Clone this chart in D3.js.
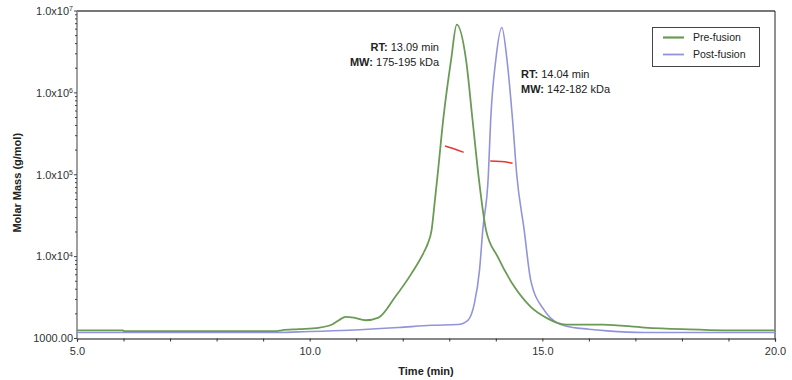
<!DOCTYPE html>
<html>
<head>
<meta charset="utf-8">
<script src="https://cdn.jsdelivr.net/npm/d3@7"></script>
<style>
  body { margin: 0; background: #fff; }
  svg { font-family: "Liberation Sans", Arial, sans-serif; }
</style>
</head>
<body>
<div id="chart"></div>
<script>
// Pre-fusion trace (time in min, molar mass in g/mol)
const preTime = [5.0, 5.99, 6.0, 9.3, 9.4, 9.76, 10.19, 10.48, 10.65, 10.77, 10.95, 11.2, 11.48, 11.84, 12.19,
  12.44, 12.54, 12.62, 12.69, 12.75, 12.87, 13.04, 13.16, 13.36, 13.5, 13.63, 13.79, 14.04, 14.4, 14.75,
  15.11, 15.32, 15.5, 16.3, 17.2, 18.0, 18.9, 20.0];
const preMass = [1260, 1260, 1230, 1230, 1260, 1300, 1350, 1480, 1700, 1840, 1800, 1670, 1800, 3230, 6240,
  10900, 14500, 21100, 48000, 100000, 470000, 2540000, 6800000, 2540000, 470000, 95000, 21100, 9970, 4280,
  2440, 1760, 1550, 1480, 1480, 1360, 1300, 1260, 1260];

// Post-fusion trace
const postTime = [5.0, 9.3, 9.76, 10.84, 11.91, 12.62, 13.18, 13.4, 13.54, 13.65, 13.72, 13.84, 13.89, 14.0,
  14.13, 14.24, 14.36, 14.45, 14.61, 14.75, 15.04, 15.32, 15.5, 16.0, 16.4, 17.2, 20.0];
const postMass = [1185, 1185, 1205, 1260, 1360, 1450, 1480, 1670, 2680, 6850, 21100, 100000, 470000, 2540000,
  6300000, 2540000, 470000, 100000, 21100, 5170, 2220, 1550, 1425, 1300, 1240, 1185, 1185];

// Red molar-mass segments across each peak
const preMwTime = [12.91, 13.05, 13.2, 13.31];
const preMwMass = [225000, 212000, 198000, 188000];
const postMwTime = [13.88, 14.1, 14.25, 14.36];
const postMwMass = [147000, 145000, 142000, 138000];

const xMajorTicks = [5, 10, 15, 20];
const xMinorTicks = d3.range(5, 21, 1);
const yTickValues = [1e3, 1e4, 1e5, 1e6, 1e7];
const yTickBase = ['1000.00', '1.0x10', '1.0x10', '1.0x10', '1.0x10'];
const yTickExp = ['', '4', '5', '6', '7'];

const seriesNames = ['Pre-fusion', 'Post-fusion'];
const seriesColors = ['#6a9b55', '#9393dc'];

const width = 792, height = 380;
const plot = { left: 77, right: 775, top: 11, bottom: 338.5 };

const svg = d3.select('#chart').append('svg')
  .attr('width', width)
  .attr('height', height);

const x = d3.scaleLinear().domain([5, 20]).range([plot.left, plot.right]);
const y = d3.scaleLog().domain([1000, 1e7]).range([plot.bottom, plot.top]);

svg.append('defs').append('clipPath').attr('id', 'clip')
  .append('rect')
  .attr('x', plot.left).attr('y', plot.top)
  .attr('width', plot.right - plot.left).attr('height', plot.bottom - plot.top);

// frame
svg.append('line').attr('x1', plot.left).attr('x2', plot.right).attr('y1', plot.top).attr('y2', plot.top)
  .attr('stroke', '#777').attr('stroke-width', 2);
svg.append('line').attr('x1', plot.right).attr('x2', plot.right).attr('y1', plot.top).attr('y2', plot.bottom)
  .attr('stroke', '#222').attr('stroke-width', 1);

// x axis
const xAxis = d3.axisBottom(x).tickValues(xMinorTicks).tickSize(3)
  .tickFormat(d => xMajorTicks.includes(d) ? d.toFixed(1) : '');
const gX = svg.append('g')
  .attr('transform', `translate(0,${plot.bottom})`)
  .call(xAxis);
gX.select('.domain').attr('stroke', '#111').attr('stroke-width', 1.2);
gX.selectAll('.tick line').attr('stroke', '#333');
gX.selectAll('.tick text').attr('font-size', 11).attr('fill', '#333').attr('dy', '0.85em').attr('y', 7);

// y axis
const minorY = [];
for (let e = 3; e < 7; e++) for (let m = 2; m < 10; m++) minorY.push(m * Math.pow(10, e));
const gY = svg.append('g').attr('transform', `translate(${plot.left},0)`);
gY.append('line').attr('x1', 0).attr('x2', 0).attr('y1', plot.top).attr('y2', plot.bottom)
  .attr('stroke', '#888').attr('stroke-width', 1.6);
gY.selectAll('.minor').data(minorY).enter().append('line')
  .attr('x1', -2).attr('x2', 0)
  .attr('y1', d => y(d)).attr('y2', d => y(d))
  .attr('stroke', '#444');
gY.selectAll('.major').data(yTickValues).enter().append('line')
  .attr('x1', -3).attr('x2', 0)
  .attr('y1', d => y(d)).attr('y2', d => y(d))
  .attr('stroke', '#444');
const yLabels = gY.selectAll('.ylab').data(yTickValues).enter().append('text')
  .attr('x', -4)
  .attr('y', d => y(d))
  .attr('dy', '0.35em')
  .attr('text-anchor', 'end')
  .attr('font-size', 11)
  .attr('fill', '#333');
yLabels.append('tspan').text((d, i) => yTickBase[i]);
yLabels.append('tspan').attr('font-size', 7).attr('dy', '-0.55em').text((d, i) => yTickExp[i]);

// axis titles
svg.append('text')
  .attr('transform', `translate(21,${(plot.top + plot.bottom) / 2 + 8}) rotate(-90)`)
  .attr('text-anchor', 'middle')
  .attr('font-size', 11).attr('font-weight', 'bold').attr('fill', '#222')
  .text('Molar Mass (g/mol)');
svg.append('text')
  .attr('x', (plot.left + plot.right) / 2)
  .attr('y', 375)
  .attr('text-anchor', 'middle')
  .attr('font-size', 11).attr('font-weight', 'bold').attr('fill', '#222')
  .text('Time (min)');

// traces
const line = d3.line()
  .x(d => x(d[0]))
  .y(d => y(d[1]))
  .curve(d3.curveMonotoneX);
const main = svg.append('g').attr('clip-path', 'url(#clip)');

main.append('path')
  .datum(postTime.map((t, i) => [t, postMass[i]]))
  .attr('d', line)
  .attr('fill', 'none')
  .attr('stroke', seriesColors[1])
  .attr('stroke-width', 1.6);
main.append('path')
  .datum(preTime.map((t, i) => [t, preMass[i]]))
  .attr('d', line)
  .attr('fill', 'none')
  .attr('stroke', seriesColors[0])
  .attr('stroke-width', 1.8);

[[preMwTime, preMwMass], [postMwTime, postMwMass]].forEach(([ts, ms]) => {
  main.append('path')
    .datum(ts.map((t, i) => [t, ms[i]]))
    .attr('d', line)
    .attr('fill', 'none')
    .attr('stroke', '#e8372c')
    .attr('stroke-width', 1.5);
});

// annotations
function annot(xp, yp, anchor, key, val) {
  const t = svg.append('text')
    .attr('x', xp).attr('y', yp)
    .attr('text-anchor', anchor)
    .attr('font-size', 11).attr('fill', '#222');
  t.append('tspan').attr('font-weight', 'bold').text(key);
  t.append('tspan').text(' ' + val);
}
annot(439, 51, 'end', 'RT:', '13.09 min');
annot(439, 66, 'end', 'MW:', '175-195 kDa');
annot(521, 78, 'start', 'RT:', '14.04 min');
annot(521, 93, 'start', 'MW:', '142-182 kDa');

// legend
const legend = svg.append('g');
legend.append('rect')
  .attr('x', 652.5).attr('y', 27.5).attr('width', 107).attr('height', 39)
  .attr('fill', '#fff').attr('stroke', '#444').attr('stroke-width', 1);
seriesNames.forEach((name, i) => {
  const ly = 37.5 + i * 17;
  legend.append('line')
    .attr('x1', 663).attr('x2', 684).attr('y1', ly).attr('y2', ly)
    .attr('stroke', seriesColors[i]).attr('stroke-width', i === 0 ? 2.2 : 1.8);
  legend.append('text')
    .attr('x', 693).attr('y', ly).attr('dy', '0.35em')
    .attr('font-size', 10.5).attr('fill', '#222')
    .text(name);
});
</script>
</body>
</html>
